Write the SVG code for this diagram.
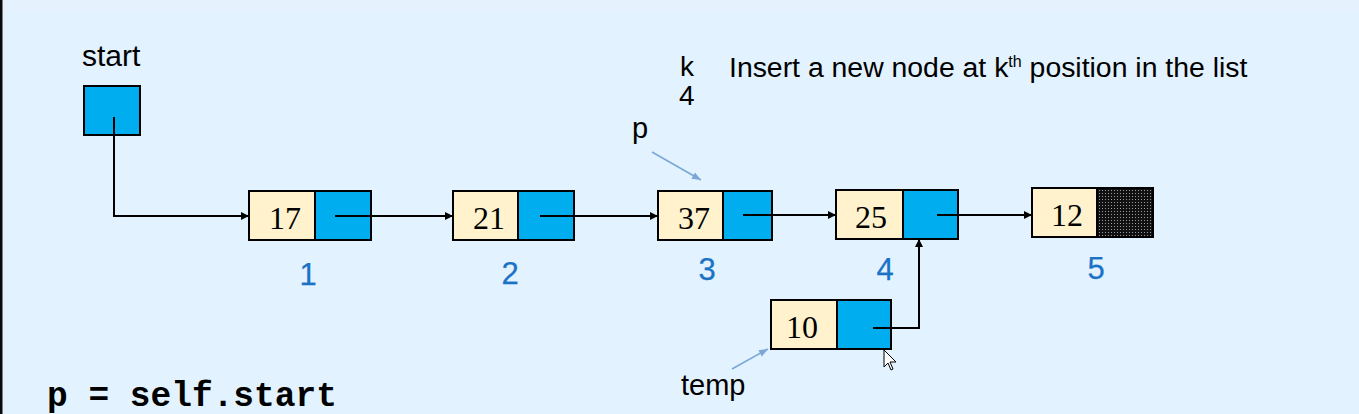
<svg xmlns="http://www.w3.org/2000/svg" width="1359" height="414" viewBox="0 0 1359 414">
<defs>
<style>
.data{fill:#FFF2CC;stroke:#000;stroke-width:2}
.ptr{fill:#00AEEF;stroke:#000;stroke-width:2}
.val{font-family:"Liberation Serif","Times New Roman",serif;font-size:32px;fill:#000;text-anchor:middle}
.lbl{font-family:"Liberation Sans",Arial,sans-serif;fill:#000}
.idx{font-family:"Liberation Sans",Arial,sans-serif;font-size:31px;fill:#1A72C6;text-anchor:middle;stroke:#1A72C6;stroke-width:0.25}
.code{font-family:"Liberation Mono","Courier New",monospace;font-weight:bold;font-size:34.5px;fill:#000}
.conn{fill:none;stroke:#000;stroke-width:2}
.hint{fill:none;stroke:#7BA7D6;stroke-width:1.5}
</style>
<marker id="ah" viewBox="0 0 10 10" refX="10" refY="5" markerWidth="9" markerHeight="8" markerUnits="userSpaceOnUse" orient="auto">
<path d="M0,0 L10,5 L0,10 Z" fill="#000"/>
</marker>
<marker id="ahb" viewBox="0 0 10 10" refX="10" refY="5" markerWidth="10" markerHeight="9" markerUnits="userSpaceOnUse" orient="auto">
<path d="M0,1 L10,5 L0,9 Z" fill="#7BA7D6"/>
</marker>
<pattern id="stip" width="3" height="3" patternUnits="userSpaceOnUse">
<rect width="3" height="3" fill="#111"/>
<rect x="1" y="1" width="1" height="1" fill="#9a9a9a"/>
</pattern>
</defs>
<rect width="1359" height="414" fill="#E2F2FE"/>
<rect width="1359" height="12" fill="#E5F1FC"/>
<rect x="0" y="0" width="2.5" height="414" fill="#0a0a0a"/>

<g id="start">
<text class="lbl" x="82" y="66" style="font-size:30px">start</text>
<rect class="ptr" x="84" y="86" width="56" height="49"/>
</g>

<g id="node1">
<rect class="data" x="249" y="191" width="66" height="49"/>
<rect class="ptr" x="315" y="191" width="56" height="49"/>
<text class="val" x="285" y="229">17</text>
<text class="idx" x="308" y="285">1</text>
</g>

<g id="node2">
<rect class="data" x="453" y="191" width="65" height="49"/>
<rect class="ptr" x="518" y="191" width="56" height="49"/>
<text class="val" x="489" y="229">21</text>
<text class="idx" x="510" y="284">2</text>
</g>

<g id="node3">
<rect class="data" x="658" y="191" width="65" height="49"/>
<rect class="ptr" x="723" y="191" width="49" height="49"/>
<text class="val" x="694" y="229">37</text>
<text class="idx" x="707" y="280">3</text>
</g>

<g id="node4">
<rect class="data" x="836" y="190" width="67" height="49"/>
<rect class="ptr" x="903" y="190" width="55" height="49"/>
<text class="val" x="871" y="228">25</text>
<text class="idx" x="885" y="280">4</text>
</g>

<g id="node5">
<rect class="data" x="1032" y="188" width="65" height="49"/>
<rect x="1097" y="188" width="56" height="49" fill="url(#stip)" stroke="#000" stroke-width="2"/>
<text class="val" x="1067" y="226">12</text>
<text class="idx" x="1096" y="279">5</text>
</g>

<g id="temp">
<rect class="data" x="771" y="300" width="66" height="49"/>
<rect class="ptr" x="837" y="300" width="54" height="49"/>
<text class="val" x="802" y="338">10</text>
<text class="lbl" x="681" y="395" style="font-size:29px">temp</text>
</g>

<g id="p-label">
<text class="lbl" x="632" y="138" style="font-size:29px">p</text>
</g>

<g id="info">
<text class="lbl" x="680" y="76" style="font-size:28px">k</text>
<text class="lbl" x="679" y="105" style="font-size:28px">4</text>
<text class="lbl" x="729" y="77" style="font-size:28.4px">Insert a new node at k<tspan style="font-size:16px" dy="-10">th</tspan><tspan dy="10"> position in the list</tspan></text>
</g>

<g id="code">
<text class="code" x="47" y="406">p = self.start</text>
</g>

<g id="connectors">
<path class="conn" d="M114,117 V216 H249" marker-end="url(#ah)"/>
<path class="conn" d="M335,216 H453" marker-end="url(#ah)"/>
<path class="conn" d="M540,216 H658" marker-end="url(#ah)"/>
<path class="conn" d="M743,215 H836" marker-end="url(#ah)"/>
<path class="conn" d="M937,215 H1032" marker-end="url(#ah)"/>
<path class="conn" d="M873,328 H919 V239" marker-end="url(#ah)"/>
<path class="hint" d="M652,152 L701,180" marker-end="url(#ahb)"/>
<path class="hint" d="M732,369 L768,349" marker-end="url(#ahb)"/>
</g>

<g id="cursor">
<path d="M884,350 L884,367 L888,363 L891,370 L893,369 L890,362 L896,362 Z" fill="#fff" stroke="#000" stroke-width="1"/>
</g>
</svg>
